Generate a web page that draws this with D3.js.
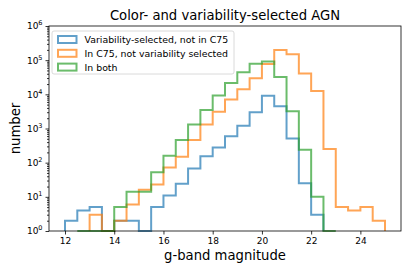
<!DOCTYPE html>
<html>
<head>
<meta charset="utf-8">
<script src="https://cdn.jsdelivr.net/npm/d3@7"></script>
<style>
   body { margin: 0; background: #fff; }
   svg { font-family: "DejaVu Sans", sans-serif; }
</style>
</head>
<body>
<svg id="canvas"></svg>
<script>
// Histogram counts per 0.5 mag bin
const binWidth = 0.5;
const blueStart = 12;
const blueCounts = [2, 4, 5, 0, 2, 2, 0, 5, 11, 24, 68, 155, 280, 590, 1200, 3000, 9100, 4500, 510, 25, 3];
const orangeStart = 13;
const orangeCounts = [3, 0, 2, 6, 16, 23, 72, 150, 460, 1320, 3100, 7100, 14000, 29500, 77000, 199000, 148000, 41000, 12500, 250, 5, 4, 5, 2];
const greenStart = 12.5;
const greenCounts = [0, 0, 0, 5, 14, 14, 52, 160, 460, 1300, 3500, 9200, 21500, 44000, 78000, 92000, 32000, 3200, 240, 10, 0];

const seriesNames = ["Variability-selected, not in C75", "In C75, not variability selected", "In both"];
const seriesColors = ["#1f77b4", "#ff7f0e", "#2ca02c"];

const xTicks = [12, 14, 16, 18, 20, 22, 24];
const yTicks = [1, 10, 100, 1000, 10000, 100000, 1000000];

const plotChart = () => {
   const svgWidth = 412;
   const svgHeight = 275;
   const canvas = d3.select("#canvas")
                    .attr("width", svgWidth)
                    .attr("height", svgHeight);

   // plot area in pixels
   const left = 49, right = 401, top = 26, bottom = 231;

   const xScale = d3.scaleLinear()
                    .domain([11.35, 25.65])
                    .range([left, right]);
   const yScale = d3.scaleLog()
                    .domain([1, 1e6])
                    .range([bottom, top]);

   // step outline like matplotlib histtype="step"
   const stepPoints = (start, counts) => {
      const pts = [[xScale(start), bottom]];
      counts.forEach((c, i) => {
         const y = yScale(Math.max(c, 1));
         pts.push([xScale(start + i*binWidth), y]);
         pts.push([xScale(start + (i+1)*binWidth), y]);
      });
      pts.push([xScale(start + counts.length*binWidth), bottom]);
      return pts;
   };

   const histData = [
      {start: blueStart, counts: blueCounts},
      {start: orangeStart, counts: orangeCounts},
      {start: greenStart, counts: greenCounts}
   ];

   canvas.append("g")
         .selectAll("path")
         .data(histData)
         .enter()
         .append("path")
         .attr("d", (d) => d3.line()(stepPoints(d.start, d.counts)))
         .attr("fill", "none")
         .attr("stroke", (d, i) => seriesColors[i])
         .attr("stroke-width", 2)
         .attr("stroke-opacity", 0.7)
         .attr("stroke-linejoin", "miter");

   // x axis
   const xAxis = d3.axisBottom(xScale)
                   .tickValues(xTicks)
                   .tickSize(3.5)
                   .tickPadding(3);
   const gx = canvas.append("g")
                    .attr("transform", `translate(0, ${bottom})`)
                    .call(xAxis);
   gx.select(".domain").remove();
   gx.selectAll("text").attr("font-size", 9).attr("fill", "#000").attr("font-family", "DejaVu Sans");

   // y axis, major ticks with 10^n labels
   const yAxis = d3.axisLeft(yScale)
                   .tickValues(yTicks)
                   .tickSize(3.5)
                   .tickPadding(3);
   const gy = canvas.append("g")
                    .attr("transform", `translate(${left}, 0)`)
                    .call(yAxis);
   gy.select(".domain").remove();
   gy.selectAll("text")
     .attr("font-size", 9)
     .attr("fill", "#000")
     .attr("font-family", "DejaVu Sans")
     .text(null)
     .each(function(d) {
        const t = d3.select(this);
        t.append("tspan").text("10");
        t.append("tspan")
         .attr("dy", -4)
         .attr("font-size", 6.5)
         .text(Math.round(Math.log10(d)));
     });

   // y minor ticks
   const minorTicks = [];
   for (let e = 0; e < 6; e++) {
      for (let m = 2; m < 10; m++) minorTicks.push(m * Math.pow(10, e));
   }
   const gyMinor = canvas.append("g")
                         .attr("transform", `translate(${left}, 0)`)
                         .call(d3.axisLeft(yScale).tickValues(minorTicks).tickSize(2).tickFormat(""));
   gyMinor.select(".domain").remove();
   canvas.selectAll(".tick line").attr("stroke", "#000").attr("stroke-width", 0.8);

   // frame
   canvas.append("rect")
         .attr("x", left)
         .attr("y", top)
         .attr("width", right - left)
         .attr("height", bottom - top)
         .attr("fill", "none")
         .attr("stroke", "#000")
         .attr("stroke-width", 0.8);

   // title and axis labels
   canvas.append("text")
         .attr("x", (left + right)/2)
         .attr("y", 19.5)
         .attr("text-anchor", "middle")
         .attr("font-size", 13.2)
         .text("Color- and variability-selected AGN");
   canvas.append("text")
         .attr("x", (left + right)/2)
         .attr("y", 260)
         .attr("text-anchor", "middle")
         .attr("font-size", 13.2)
         .text("g-band magnitude");
   canvas.append("text")
         .attr("transform", `translate(20, ${(top + bottom)/2}) rotate(-90)`)
         .attr("text-anchor", "middle")
         .attr("font-size", 13.2)
         .text("number");

   // legend
   const lgd = canvas.append("g");
   lgd.append("rect")
      .attr("x", 52)
      .attr("y", 31)
      .attr("width", 182)
      .attr("height", 43)
      .attr("rx", 2)
      .attr("fill", "#fff")
      .attr("fill-opacity", 0.8)
      .attr("stroke", "#d0d0d0")
      .attr("stroke-width", 0.8);
   const rows = lgd.selectAll("g.row")
                   .data(seriesNames)
                   .enter()
                   .append("g")
                   .attr("class", "row")
                   .attr("transform", (d, i) => `translate(0, ${39.5 + i*13.8})`);
   rows.append("rect")
       .attr("x", 58)
       .attr("y", -3.5)
       .attr("width", 18.5)
       .attr("height", 7)
       .attr("fill", "none")
       .attr("stroke", (d, i) => seriesColors[i])
       .attr("stroke-width", 2)
       .attr("stroke-opacity", 0.7);
   rows.append("text")
       .attr("x", 84.5)
       .attr("y", 3.4)
       .attr("font-size", 9.4)
       .text((d) => d);
};

plotChart();
</script>
</body>
</html>
